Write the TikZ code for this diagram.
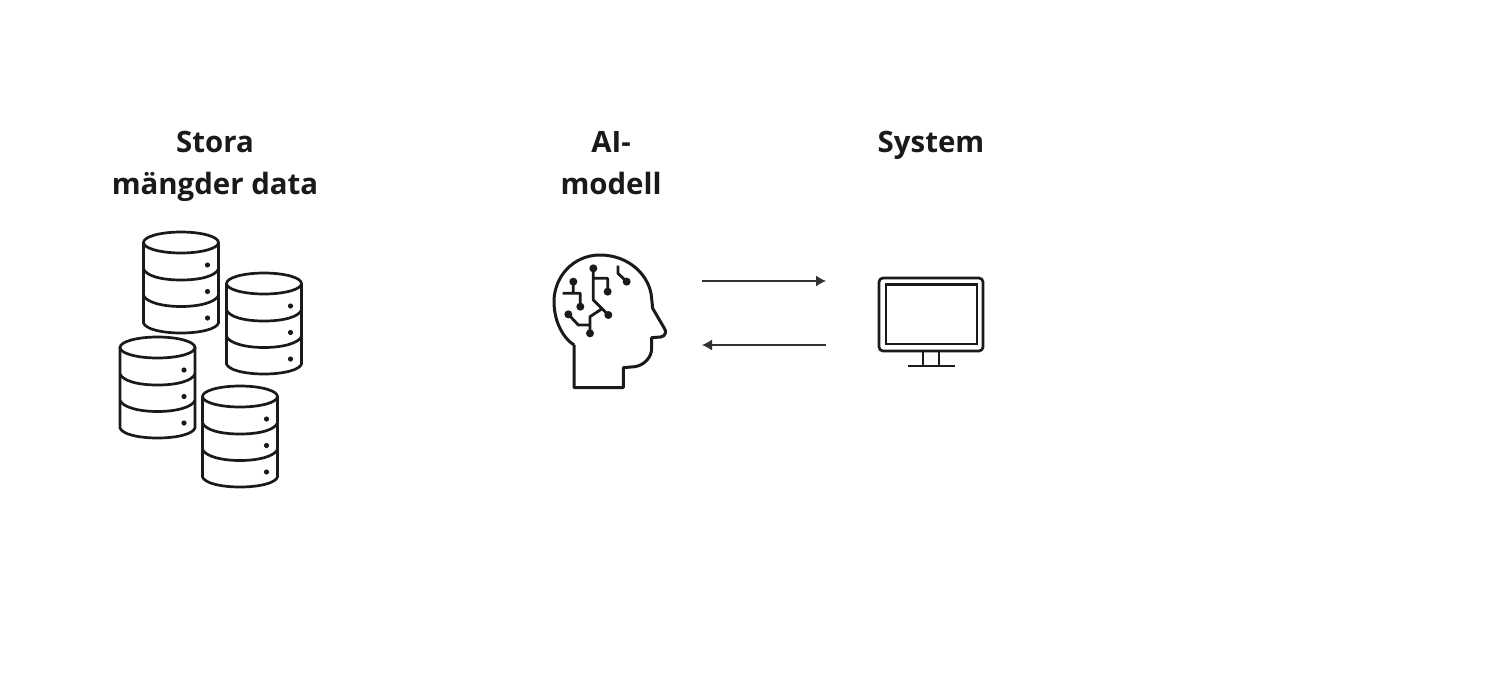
\documentclass[tikz,border=0pt]{standalone}
\usepackage{fontspec}
\setmainfont{Open Sans}
\definecolor{ink}{HTML}{1A1A1A}
\usetikzlibrary{arrows.meta}
\tikzset{
  px/.style={x=1pt,y=-1pt},
  title/.style={font=\fontsize{29.4}{42}\selectfont\bfseries,text=ink,inner sep=0pt,anchor=base},
  icon/.style={draw=ink,line width=2.7pt,line join=round,line cap=round},
  flow/.style={draw=ink!90,line width=1.3pt,-{Latex[length=10pt,width=11pt]}}
}
\newcommand{\dbcyl}[3]{%
  \begin{scope}[shift={(#1pt,-#2pt)}]
    \draw[icon] (0,10.5) -- (0,91) .. controls (2,97) and (18,101) .. (37.5,101) .. controls (57,101) and (73,97) .. (75,91) -- (75,10.5);
    \draw[icon] (37.5,10.5) ellipse [x radius=37.5pt,y radius=10.5pt];
    \draw[icon] (0,37) .. controls (3,44) and (18,48) .. (37.5,48) .. controls (57,48) and (72,44) .. (75,37);
    \draw[icon] (0,63.5) .. controls (3,70) and (18,74.5) .. (37.5,74.5) .. controls (57,74.5) and (72,70) .. (75,63.5);
    \fill[ink] (64,33) circle (2.6pt) (64,59.5) circle (2.6pt) (64,86) circle (2.6pt);
    \coordinate (#3) at (37.5,50);
  \end{scope}}
\begin{document}
\begin{tikzpicture}[px]
\useasboundingbox (0,0) rectangle (1503,688);
\fill[white] (0,0) rectangle (1503,688);
\node[title] (t1a) at (215,152) {Stora};
\node[title] (t1b) at (215,194) {mängder data};
\node[title] (t2a) at (611,152) {AI-};
\node[title] (t2b) at (611,194) {modell};
\node[title] (t3) at (931,152) {System};
\dbcyl{143.5}{232}{dba}
\dbcyl{226.5}{273}{dbb}
\dbcyl{120}{337}{dbc}
\dbcyl{202.5}{386}{dbd}
% head
\begin{scope}[shift={(540pt,-245pt)},x=0.3333pt,y=-0.3333pt]
  \draw[icon,line width=3pt,line cap=butt,miter limit=10]
    (102,300) -- (102,428) -- (250,428) -- (250,368) -- (285,365)
    .. controls (315,360) and (335,335) .. (335,310) -- (335,278) -- (362,276)
    .. controls (378,274) and (380,258) .. (372,248) -- (338,190) -- (335,160)
    .. controls (330,90) and (265,30) .. (180,30)
    .. controls (100,30) and (42,95) .. (42,170)
    .. controls (42,230) and (70,280) .. (102,300);
  \draw[icon,line cap=butt,line width=2.8pt]
    (160,70) -- (160,165) -- (205,210)
    (160,100) -- (203,100) -- (203,140)
    (188,190) -- (150,215) -- (150,265)
    (85,208) -- (115,240) -- (150,240)
    (100,110) -- (100,145) (68,145) -- (121,145) -- (121,185)
    (234,62) -- (234,85) -- (260,110);
  \fill[ink] (160,70) circle (4pt) (203,140) circle (4pt) (205,210) circle (4pt)
    (150,265) circle (4pt) (85,208) circle (4pt) (100,110) circle (4pt)
    (121,185) circle (4pt) (260,110) circle (4pt);
\end{scope}
% monitor
\draw[icon,rounded corners=4pt] (879,278) rectangle (983,351);
\draw[icon,line join=miter] (886,284.5) rectangle (977,344);
\draw[icon,line cap=butt] (923,351) -- (923,366) (939,351) -- (939,366) (908,366) -- (955,366);
% arrows
\coordinate (ra) at (702,281);
\coordinate (rb) at (826,281);
\coordinate (la) at (826,345);
\coordinate (lb) at (702,345);
\draw[flow] (ra) -- (rb);
\draw[flow] (la) -- (lb);
\end{tikzpicture}
\end{document}
